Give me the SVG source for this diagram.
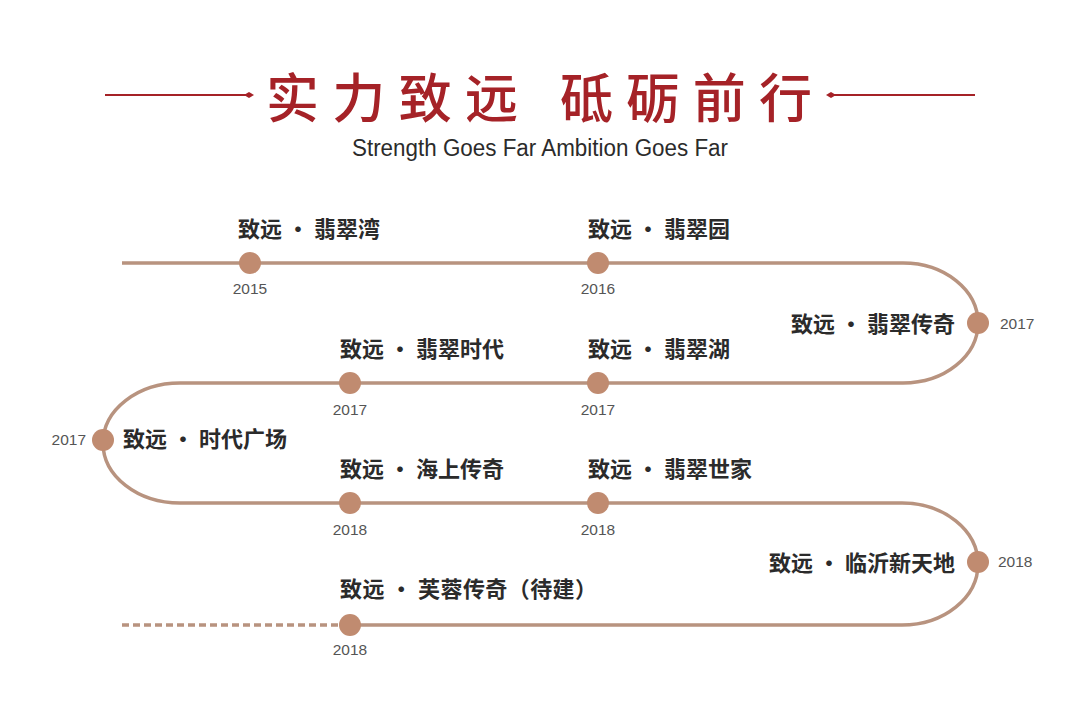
<svg xmlns="http://www.w3.org/2000/svg" width="1080" height="706" viewBox="0 0 1080 706">
<style>
.line{fill:none;stroke:#b8937f;stroke-width:3.5}
.dash{fill:none;stroke:#b8937f;stroke-width:3.5;stroke-dasharray:7 4}
.dot{fill:#c08b70}
.lbl{font-family:"Noto Sans CJK SC","Noto Sans",sans-serif;font-weight:700;font-size:22px;fill:#2b2b2b}
.yr{font-family:"Liberation Sans",Arial,sans-serif;font-size:15.5px;fill:#555}
.title{font-family:"Noto Sans CJK SC",sans-serif;font-weight:500;font-size:53px;fill:#a52227}
.sub{font-family:"Liberation Sans",Arial,sans-serif;font-size:23px;fill:#2b2b2b}
.deco{stroke:#a52227;stroke-width:2;fill:none}
</style>
<rect width="1080" height="706" fill="#ffffff"/>
<g id="header">
<line class="deco" x1="105" y1="95" x2="246" y2="95"/>
<path d="M244 95 L249 92 L254 95 L249 98 Z" fill="#a52227"/>
<line class="deco" x1="834" y1="95" x2="975" y2="95"/>
<path d="M826 95 L831 92 L836 95 L831 98 Z" fill="#a52227"/>
<text class="title" x="266" y="118" textLength="252" lengthAdjust="spacing">实力致远</text>
<text class="title" x="560" y="118" textLength="252" lengthAdjust="spacing">砥砺前行</text>
<text class="sub" x="352" y="156" textLength="376" lengthAdjust="spacingAndGlyphs">Strength Goes Far  Ambition Goes Far</text>
</g>
<g id="connectors">
<path class="line" d="M122 263 H903 A75 60 0 0 1 903 383 H180 A77 60 0 0 0 180 503 H902 A76 61 0 0 1 902 625 H350"/>
<line class="dash" x1="122" y1="625" x2="340" y2="625"/>
</g>
<g id="n1"><circle class="dot" cx="250" cy="263" r="11"/><text class="lbl" x="238" y="237">致远 · 翡翠湾</text><text class="yr" x="250" y="294" text-anchor="middle">2015</text></g>
<g id="n2"><circle class="dot" cx="598" cy="263" r="11"/><text class="lbl" x="588" y="237">致远 · 翡翠园</text><text class="yr" x="598" y="294" text-anchor="middle">2016</text></g>
<g id="n3"><circle class="dot" cx="978" cy="323" r="11"/><text class="lbl" x="955" y="332" text-anchor="end">致远 · 翡翠传奇</text><text class="yr" x="1000" y="329">2017</text></g>
<g id="n4"><circle class="dot" cx="598" cy="383" r="11"/><text class="lbl" x="588" y="357">致远 · 翡翠湖</text><text class="yr" x="598" y="415" text-anchor="middle">2017</text></g>
<g id="n5"><circle class="dot" cx="350" cy="383" r="11"/><text class="lbl" x="340" y="357">致远 · 翡翠时代</text><text class="yr" x="350" y="415" text-anchor="middle">2017</text></g>
<g id="n6"><circle class="dot" cx="103" cy="440" r="11"/><text class="lbl" x="123" y="447">致远 · 时代广场</text><text class="yr" x="86" y="445" text-anchor="end">2017</text></g>
<g id="n7"><circle class="dot" cx="350" cy="503" r="11"/><text class="lbl" x="340" y="477">致远 · 海上传奇</text><text class="yr" x="350" y="535" text-anchor="middle">2018</text></g>
<g id="n8"><circle class="dot" cx="598" cy="503" r="11"/><text class="lbl" x="588" y="477">致远 · 翡翠世家</text><text class="yr" x="598" y="535" text-anchor="middle">2018</text></g>
<g id="n9"><circle class="dot" cx="978" cy="562" r="11"/><text class="lbl" x="955" y="571" text-anchor="end">致远 · 临沂新天地</text><text class="yr" x="998" y="567">2018</text></g>
<g id="n10"><circle class="dot" cx="350" cy="625" r="11"/><text class="lbl" x="340" y="597" textLength="257" lengthAdjust="spacing">致远 · 芙蓉传奇（待建）</text><text class="yr" x="350" y="655" text-anchor="middle">2018</text></g>
</svg>
